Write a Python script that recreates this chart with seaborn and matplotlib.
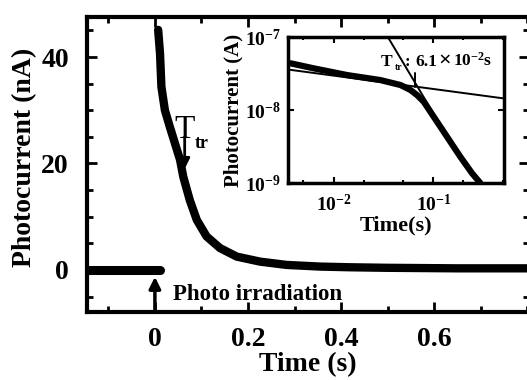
import numpy as np
import pandas as pd
import matplotlib
matplotlib.use("Agg")
import matplotlib.pyplot as plt
import matplotlib.ticker as mticker
import seaborn as sns

# ---------------- data ----------------
# main panel: photocurrent (nA) vs time (s)
t_pre = [-0.146, -0.10, -0.05, 0.0, 0.010]
i_pre = [0.0, 0.0, 0.0, 0.0, 0.0]

t_decay = [0.007, 0.011, 0.014, 0.0215, 0.032, 0.043, 0.054, 0.061, 0.075,
           0.090, 0.111, 0.140, 0.176, 0.226, 0.283, 0.355, 0.419, 0.500,
           0.650, 0.803]
i_decay = [45.1, 40.7, 34.4, 30.0, 26.9, 23.8, 20.7, 17.5, 13.1,
           9.4, 6.3, 4.1, 2.5, 1.56, 0.94, 0.63, 0.5, 0.4,
           0.3, 0.3]

# inset: log-log decay (A vs s)
t_log = [0.00372, 0.00635, 0.0137, 0.0295, 0.0468, 0.0589, 0.0687, 0.080,
         0.1007, 0.137, 0.186, 0.244, 0.295]
i_log = [4.36e-8, 3.72e-8, 3.01e-8, 2.57e-8, 2.2e-8, 1.88e-8, 1.60e-8, 1.30e-8,
         8.1e-9, 4.3e-9, 2.29e-9, 1.36e-9, 1.0e-9]

fit1_t = [0.0037, 0.51]
fit1_i = [3.55e-8, 1.44e-8]
fit2_t = [0.035, 0.10]
fit2_i = [1.0e-7, 9.0e-9]

t_tr = 0.066
i_tr = 2.09e-8

main_xticks = [0, 0.2, 0.4, 0.6]
main_xticklabels = ["0", "0.2", "0.4", "0.6"]
main_yticks = [0, 20, 40]

# ---------------- style ----------------
sns.set_theme(style="ticks")
plt.rcParams["font.family"] = ["Liberation Serif", "DejaVu Serif"]
plt.rcParams["font.weight"] = "bold"
plt.rcParams["axes.labelweight"] = "bold"
for key in ["text.color", "axes.labelcolor", "xtick.color", "ytick.color",
            "axes.edgecolor"]:
    plt.rcParams[key] = "black"
plt.rcParams["mathtext.fontset"] = "custom"
plt.rcParams["mathtext.rm"] = "Liberation Serif:bold"
plt.rcParams["mathtext.bf"] = "Liberation Serif:bold"
plt.rcParams["mathtext.it"] = "Liberation Serif:bold:italic"

fig = plt.figure(figsize=(5.27, 3.80), dpi=100)
ax = fig.add_axes([0.165, 0.179, 0.838, 0.776])

df_pre = pd.DataFrame({"t": t_pre, "i": i_pre})
df_dec = pd.DataFrame({"t": t_decay, "i": i_decay})
sns.lineplot(data=df_pre, x="t", y="i", ax=ax, color="black", linewidth=6.5,
             solid_capstyle="round", solid_joinstyle="round")
sns.lineplot(data=df_dec, x="t", y="i", ax=ax, color="black", linewidth=6,
             solid_capstyle="round", solid_joinstyle="round")

ax.set_xlim(-0.146, 0.803)
ax.set_ylim(-7.9, 47.5)
ax.set_xticks(main_xticks)
ax.set_xticklabels(main_xticklabels)
ax.xaxis.set_minor_locator(mticker.MultipleLocator(0.1))
ax.set_yticks(main_yticks)
ax.yaxis.set_minor_locator(mticker.MultipleLocator(5))
ax.tick_params(which="both", direction="in", top=True, right=True,
               width=2, color="black")
ax.tick_params(which="major", length=7)
ax.tick_params(which="minor", length=4)
ax.tick_params(axis="x", which="major", labelsize=20, pad=11)
ax.tick_params(axis="y", which="major", labelsize=20, pad=13)
for s in ax.spines.values():
    s.set_linewidth(3)
    s.set_color("black")
ax.set_xlabel("Time (s)", fontsize=20, fontweight="bold", labelpad=0)
ax.set_ylabel("Photocurrent (nA)", fontsize=20, fontweight="bold")
ax.yaxis.set_label_coords(-0.113, 0.525)

# annotations
ax.annotate("", xy=(0, -1.3), xytext=(0, -7.9),
            arrowprops=dict(arrowstyle="-|>", lw=2.5, color="black",
                            mutation_scale=17, shrinkA=0, shrinkB=0))
ax.text(0.039, -4.7, "Photo irradiation", fontsize=16.5, fontweight="bold",
        va="center", ha="left")
ax.text(0.064, 24.8, "T", fontsize=24, fontweight="normal", ha="center",
        va="baseline")
ax.text(0.086, 22.9, "tr", fontsize=13, fontweight="bold", ha="left",
        va="baseline")
ax.annotate("", xy=(0.064, 19.0), xytext=(0.064, 25.0),
            arrowprops=dict(arrowstyle="-|>", lw=2, color="black",
                            mutation_scale=15, shrinkA=0, shrinkB=0))

# ---------------- inset ----------------
ins = fig.add_axes([0.5465, 0.5184, 0.4099, 0.3842])
ins.set_xscale("log")
ins.set_yscale("log")
df_log = pd.DataFrame({"t": t_log, "i": i_log})
sns.lineplot(data=df_log, x="t", y="i", ax=ins, color="black", linewidth=4.5,
             solid_capstyle="round", solid_joinstyle="round")
sns.lineplot(x=fit1_t, y=fit1_i, ax=ins, color="black", linewidth=1.4)
sns.lineplot(x=fit2_t, y=fit2_i, ax=ins, color="black", linewidth=1.4)
ins.set_xlim(0.0035, 0.51)
ins.set_ylim(1e-9, 1e-7)
ins.set_xticks([1e-2, 1e-1])
ins.set_yticks([1e-9, 1e-8, 1e-7])
fmt = mticker.FuncFormatter(lambda v, p: r"$\mathbf{10^{%d}}$" % int(round(np.log10(v))))
ins.xaxis.set_major_formatter(fmt)
ins.yaxis.set_major_formatter(fmt)
ins.xaxis.set_minor_locator(mticker.LogLocator(base=10, subs=[2, 5]))
ins.xaxis.set_minor_formatter(mticker.NullFormatter())
ins.yaxis.set_minor_locator(mticker.NullLocator())
ins.tick_params(which="both", direction="in", top=True, right=True,
                width=1.5, color="black")
ins.tick_params(which="major", length=4, labelsize=14)
ins.tick_params(which="minor", length=2)
ins.tick_params(axis="x", pad=8)
ins.tick_params(axis="y", pad=5)
for s in ins.spines.values():
    s.set_linewidth(2.5)
    s.set_color("black")
ins.set_xlabel("Time(s)", fontsize=16, fontweight="bold", labelpad=0)
ins.set_ylabel("Photocurrent (A)", fontsize=15, fontweight="bold", labelpad=1)

# T_tr marker and label
ins.plot([t_tr, t_tr], [i_tr, 3.2e-8], color="black", linewidth=1.4)
ins.text(0.0300, 4.0e-8, "T", fontsize=12.5, fontweight="bold", ha="left",
         va="baseline")
ins.text(0.0410, 3.55e-8, "tr", fontsize=7, fontweight="bold", ha="left",
         va="baseline")
ins.text(0.052, 4.0e-8, ":", fontsize=12, fontweight="bold", ha="left",
         va="baseline")
ins.text(0.066, 4.0e-8, "6.1", fontsize=12.5, fontweight="bold",
         ha="left", va="baseline")
ins.text(0.112, 4.0e-8, "×", fontsize=16, fontweight="bold",
         ha="left", va="baseline")
ins.text(0.158, 4.0e-8, "10$^{-2}$s", fontsize=12.5, fontweight="bold",
         ha="left", va="baseline")

fig.savefig("out.png", dpi=100)
